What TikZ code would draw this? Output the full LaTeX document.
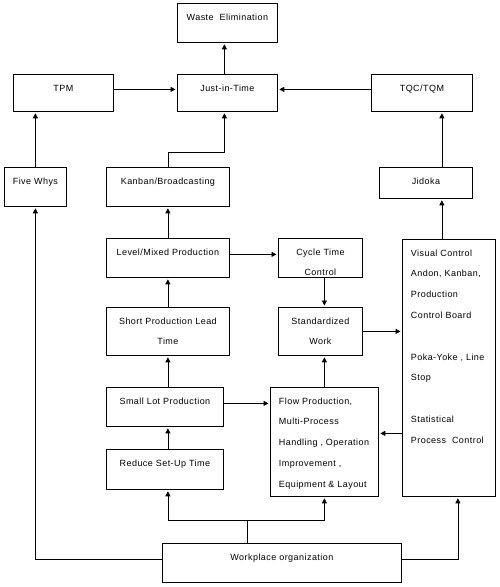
\documentclass[tikz,border=0pt]{standalone}
\usepackage{fontspec}
\setmainfont{Liberation Sans}[LetterSpace=5]
\usetikzlibrary{arrows.meta}
\newcommand\cbx[3]{\parbox[c][#2pt][t]{#1pt}{\centering\rule{0pt}{16.6pt}#3\par}}
\newcommand\lbx[3]{\parbox[c][#2pt][t]{#1pt}{\raggedright\leftskip=8.5pt\rule{0pt}{16.6pt}#3\par}}
\begin{document}
\begin{tikzpicture}[x=1pt,y=-1pt,
  box/.style={draw=black,line width=0.8pt,inner sep=0pt,anchor=north west,
    font=\fontsize{9}{20.8}\selectfont},
  arr/.style={line width=0.8pt,-{Triangle[length=5pt,width=5pt]},shorten >=1.5pt},
  ln/.style={line width=0.8pt}]
\useasboundingbox (0,0) rectangle (500,587);
\node[box] (waste)  at (177,3)   {\cbx{100}{39}{Waste\ \ Elimination}};
\node[box] (tpm)    at (13,74)   {\cbx{100}{37}{TPM}};
\node[box] (jit)    at (177,74)  {\cbx{100}{37}{Just-in-Time}};
\node[box] (tqc)    at (371,74)  {\cbx{101}{37}{TQC/TQM}};
\node[box] (five)   at (4,167)   {\cbx{62}{39}{Five Whys}};
\node[box] (kanban) at (106,167) {\cbx{123}{39}{Kanban/Broadcasting}};
\node[box] (jidoka) at (379,167) {\cbx{93}{31}{Jidoka}};
\node[box] (level)  at (106,238) {\cbx{123}{39}{Level/Mixed Production}};
\node[box] (cycle)  at (278,238) {\cbx{84}{39}{Cycle Time\\Control}};
\node[box] (visual) at (402,239) {\lbx{93}{257}{Visual Control\\Andon, Kanban,\\Production\\Control Board\\[20.8pt]Poka-Yoke , Line\\Stop\\[20.8pt]Statistical\\Process\ \ Control}};
\node[box] (short)  at (106,307) {\cbx{123}{48}{Short Production Lead\\Time}};
\node[box] (std)    at (278,307) {\cbx{84}{48}{Standardized\\Work}};
\node[box] (small)  at (106,387) {\cbx{117}{39}{Small Lot Production}};
\node[box] (flow)   at (270,387) {\lbx{108}{109}{Flow Production,\\Multi-Process\\Handling , Operation\\Improvement ,\\Equipment \& Layout}};
\node[box] (reduce) at (106,449) {\cbx{117}{40}{Reduce Set-Up Time}};
\node[box] (work)   at (162,543) {\cbx{239}{39}{Workplace organization}};
% connectors
\draw[arr] ([xshift=-3pt]jit.north) -- ([xshift=-3pt]waste.south);
\draw[arr] ([yshift=3.5pt]tpm.east) -- ([yshift=3.5pt]jit.west);
\draw[arr] ([yshift=3.5pt]tqc.west) -- ([yshift=3.5pt]jit.east);
\draw[arr] (five.north) -- (five.north |- tpm.south);
\draw[arr] ([xshift=16pt]jidoka.north) coordinate (jt) -- (jt |- tqc.south);
\draw[arr] (visual.north -| jt) -- (jidoka.south -| jt);
\draw[arr] (kanban.north) -- ++(0,-15) -| ([xshift=-3pt]jit.south);
\draw[arr] (level.north) -- (kanban.south);
\draw[arr] (short.north) -- (level.south);
\draw[arr] (small.north -| short.north) -- (short.south);
\draw[arr] (reduce.north -| short.north) -- (small.south -| short.north);
\draw[arr] ([yshift=3.5pt]level.east) -- ([yshift=3.5pt]cycle.west);
\draw[arr] (cycle.south -| flow.north) -- (std.north -| flow.north);
\draw[arr] (flow.north) -- (flow.north |- std.south);
\draw[arr] (std.east) -- (std.east -| visual.west);
\draw[arr] ([yshift=3.5pt]small.east) -- ([yshift=3.5pt]small.east -| flow.west);
\draw[arr] ([yshift=8.5pt]flow.east -| visual.west) -- ([yshift=8.5pt]flow.east);
\draw[ln] ([xshift=-35pt]work.north) -- ++(0,-23) coordinate (wj);
\draw[arr] (wj) -| (reduce.south -| short.north);
\draw[arr] (wj) -| (flow.south);
\draw[arr] ([yshift=3.5pt]work.west) -| (five.south);
\draw[arr] ([yshift=3.5pt]work.east) -| ([xshift=9pt]visual.south);
\end{tikzpicture}
\end{document}
